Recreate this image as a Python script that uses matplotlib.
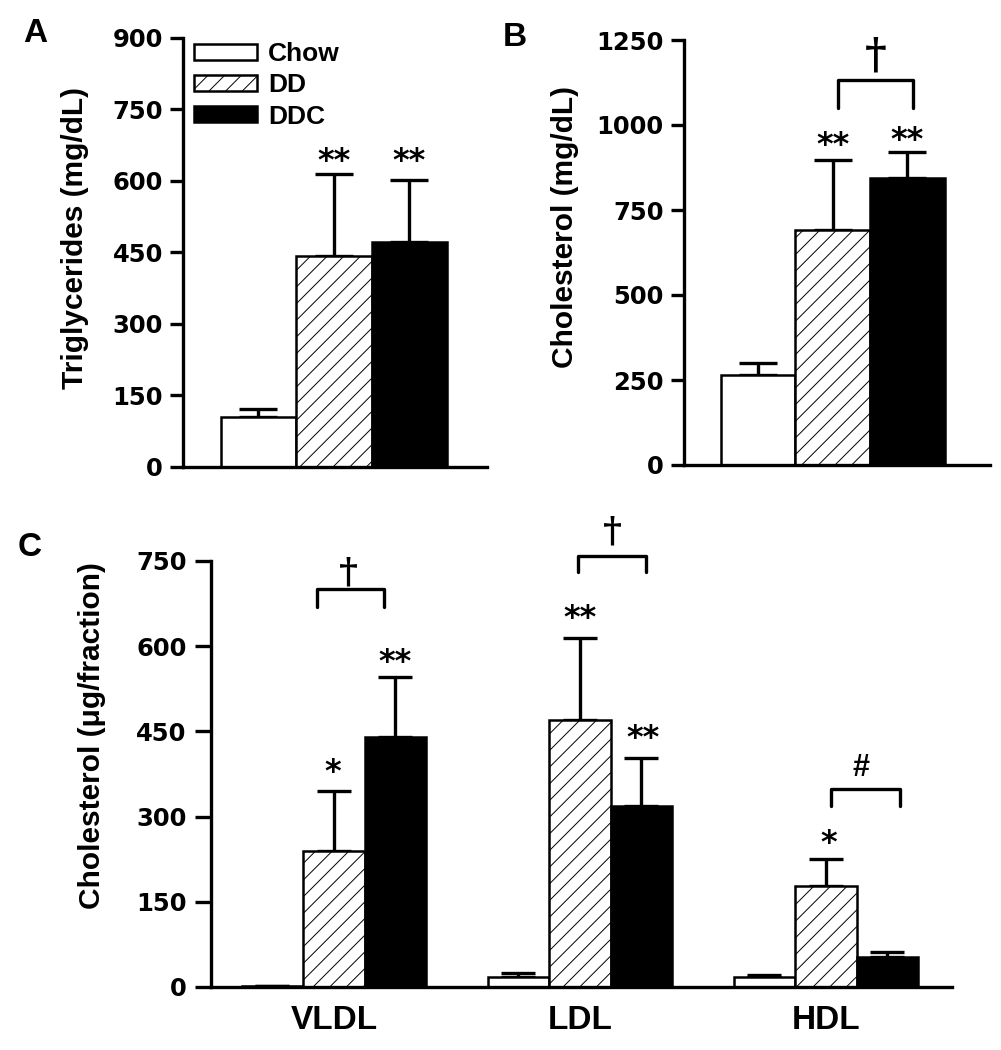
import matplotlib
matplotlib.use("Agg")
import matplotlib.pyplot as plt
from matplotlib.patches import Patch

plt.rcParams["font.family"] = ["Liberation Sans", "DejaVu Sans"]
plt.rcParams["font.weight"] = "bold"
plt.rcParams["axes.labelweight"] = "bold"
plt.rcParams["hatch.linewidth"] = 0.7

# ---- data ----
groups = ["Chow", "DD", "DDC"]
tg_mean = [105, 442, 473]
tg_err = [16, 173, 130]
chol_mean = [265, 690, 844]
chol_err = [35, 207, 77]

fractions = ["VLDL", "LDL", "HDL"]
frac_chow = [2, 18, 18]
frac_chow_err = [0, 6, 3]
frac_dd = [239, 470, 178]
frac_dd_err = [106, 144, 47]
frac_ddc = [440, 319, 53]
frac_ddc_err = [106, 84, 9]

W, H = 1001, 1050
LW = 2.4
EDGE_LW = 1.8
STYLES = [
    dict(facecolor="white", edgecolor="black"),
    dict(facecolor="white", edgecolor="black", hatch="//"),
    dict(facecolor="black", edgecolor="black"),
]
WIDE = ["DejaVu Sans"]  # wider digits / asterisks, closer to the original

fig = plt.figure(figsize=(W / 100, H / 100), dpi=100)


def px_axes(left, right, top, bottom):
    return fig.add_axes([left / W, 1 - bottom / H, (right - left) / W, (bottom - top) / H])


def style_axes(ax, ymax, step, ticklen, pad):
    for s in ["top", "right"]:
        ax.spines[s].set_visible(False)
    for s in ["left", "bottom"]:
        ax.spines[s].set_linewidth(LW)
    ax.set_ylim(0, ymax)
    ax.set_yticks(range(0, ymax + 1, step))
    ax.tick_params(axis="y", length=ticklen, width=LW, pad=pad)
    for lab in ax.get_yticklabels():
        lab.set_family(WIDE)
        lab.set_fontsize(17.5)
        lab.set_fontweight("bold")
    ax.tick_params(axis="x", length=0)


def draw_bars(ax, xs, means, errs, style, capsize):
    ax.bar(xs, means, width=1.0, linewidth=EDGE_LW, zorder=2, **style)
    ax.errorbar(xs, means, yerr=[[0] * len(errs), errs], fmt="none", ecolor="black",
                elinewidth=LW, capsize=capsize, capthick=LW, zorder=1)


def stars(ax, x, y, s, size=23):
    ax.annotate(s, (x, y), xytext=(0, -0.32 * size), textcoords="offset points",
                ha="center", va="center", fontsize=size, fontweight="bold",
                family=WIDE)


def bracket(ax, x0, x1, y, drop, mark, mark_pos, size=26, family=None):
    ax.plot([x0, x0, x1, x1], [y - drop, y, y, y - drop], color="black", lw=LW,
            solid_capstyle="round", clip_on=False)
    ax.text(mark_pos[0], mark_pos[1], mark, ha="center", va="center",
            fontsize=size, fontweight="bold", family=family)


# ---- A: triglycerides ----
axA = px_axes(183, 487, 38, 467)
style_axes(axA, 900, 150, 9.5, 5)
axA.set_xlim(-1.0, 3.03)
axA.set_xticks([])
for i in range(3):
    draw_bars(axA, [i], [tg_mean[i]], [tg_err[i]], STYLES[i], 14)
axA.set_ylabel("Triglycerides (mg/dL)", fontsize=21.5, va="center")
axA.yaxis.set_label_coords(-0.355, 0.534)
stars(axA, 1, 663, "**")
stars(axA, 2, 663, "**")
handles = [Patch(linewidth=EDGE_LW, **st) for st in STYLES]
axA.legend(handles, groups, loc="upper left", bbox_to_anchor=(0.036, 0.99),
           frameon=False, fontsize=19, handlelength=2.4, handleheight=0.55,
           handletextpad=0.4, labelspacing=0.27, borderpad=0, borderaxespad=0)

# ---- B: cholesterol ----
axB = px_axes(684, 990, 40, 465)
style_axes(axB, 1250, 250, 9.5, 5)
axB.set_xlim(-0.993, 3.11)
axB.set_xticks([])
for i in range(3):
    draw_bars(axB, [i], [chol_mean[i]], [chol_err[i]], STYLES[i], 14)
axB.set_ylabel("Cholesterol (mg/dL)", fontsize=21.5, va="center")
axB.yaxis.set_label_coords(-0.39, 0.56)
stars(axB, 1, 969, "**")
stars(axB, 2, 984, "**")
bracket(axB, 1.07, 2.08, 1132, 82, "\u2020", (1.58, 1203), size=30,
        family=["DejaVu Serif"])

# ---- C: lipoprotein fractions ----
axC = px_axes(211, 952, 561, 987)
style_axes(axC, 750, 150, 11.5, 6)
axC.set_xlim(-1.0, 11.05)
centers = [0, 4, 8]
for k, (m, e) in enumerate([(frac_chow, frac_chow_err), (frac_dd, frac_dd_err),
                            (frac_ddc, frac_ddc_err)]):
    draw_bars(axC, [c + k for c in centers], m, e, STYLES[k], 12)
axC.set_xticks([c + 1 for c in centers])
axC.set_xticklabels(fractions, fontsize=24)
axC.tick_params(axis="x", pad=13)
axC.set_ylabel("Cholesterol (\u03bcg/fraction)", fontsize=21.5, va="center")
axC.yaxis.set_label_coords(-0.161, 0.59)
stars(axC, 0.98, 396, "*")
stars(axC, 2.0, 590, "**")
stars(axC, 5.0, 667, "**")
stars(axC, 6.02, 456, "**")
stars(axC, 9.05, 271, "*")
bracket(axC, 0.72, 1.81, 700, 31, "\u2020", (1.24, 730), size=26,
        family=["DejaVu Serif"])
bracket(axC, 4.97, 6.07, 759, 28, "\u2020", (5.52, 802), size=26,
        family=["DejaVu Serif"])
bracket(axC, 9.08, 10.2, 349, 30, "#", (9.57, 386), size=22)

# panel letters
fig.text(35 / W, 1 - 33 / H, "A", fontsize=24, ha="center", va="center")
fig.text(515 / W, 1 - 37 / H, "B", fontsize=24, ha="center", va="center")
fig.text(30 / W, 1 - 548 / H, "C", fontsize=24, ha="center", va="center")

fig.savefig("out.png", dpi=100)
